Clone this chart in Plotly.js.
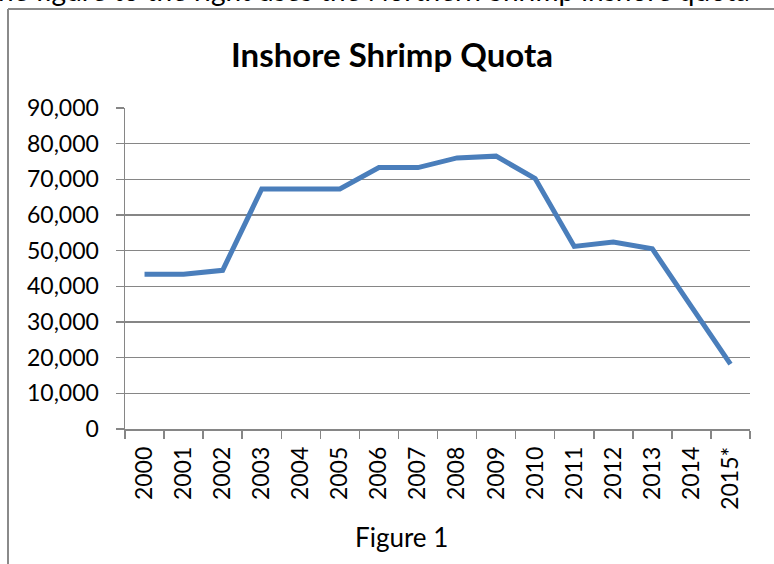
<!DOCTYPE html>
<html>
<head>
<meta charset="utf-8">
<script src="https://cdn.plot.ly/plotly-3.0.1.min.js"></script>
<style>html,body{margin:0;padding:0;background:#fff;}#chart{width:774px;height:564px;}</style>
</head>
<body>
<div id="chart"></div>
<script>
var years = ["2000","2001","2002","2003","2004","2005","2006","2007","2008","2009","2010","2011","2012","2013","2014","2015*"];
var quota = [43400, 43400, 44500, 67300, 67300, 67300, 73300, 73300, 76000, 76500, 70200, 51200, 52400, 50500, 34300, 18200];
var chartTitle = "Inshore Shrimp Quota";
var caption = "Figure 1";
var topText = "he figure to the right uses the Northern Shrimp inshore quota";

var FONT = "Lato, 'Open Sans', sans-serif";
var trace = {
  x: years, y: quota, type: "scatter", mode: "lines",
  line: {color: "#4a7ebb", width: 5},
  hoverinfo: "skip"
};
var layout = {
  width: 774, height: 564,
  margin: {l: 125, r: 24, t: 108, b: 135},
  paper_bgcolor: "#ffffff", plot_bgcolor: "#ffffff",
  showlegend: false,
  font: {family: FONT, color: "#000000", size: 23},
  title: {text: "<b>" + chartTitle + "</b>", font: {family: FONT, size: 33, color: "#000"},
          x: 0.4272, xref: "paper", xanchor: "center", y: 0.9025, yref: "container", yanchor: "middle"},
  xaxis: {
    type: "category", range: [-0.5, 15.5], tickson: "boundaries",
    showline: true, linecolor: "#868686", linewidth: 1.5,
    ticks: "outside", ticklen: 8, tickcolor: "#868686", tickwidth: 1.5,
    tickangle: -90, tickfont: {family: FONT, size: 23, color: "#000"},
    ticklabelstandoff: 7,
    showgrid: false, zeroline: false, fixedrange: true
  },
  yaxis: {
    range: [0, 90000], dtick: 10000, tick0: 0, tickformat: ",",
    showline: true, linecolor: "#868686", linewidth: 1.5,
    ticks: "outside", ticklen: 8, tickcolor: "#868686", tickwidth: 1.5,
    showgrid: true, gridcolor: "#868686", gridwidth: 1.5,
    zeroline: false, tickfont: {family: FONT, size: 23, color: "#000"},
    ticklabelstandoff: 12, fixedrange: true
  },
  annotations: [
    {text: caption, xref: "paper", yref: "paper", x: 0.4416, y: -0.3364, xanchor: "center", yanchor: "middle",
     showarrow: false, font: {family: FONT, size: 26, color: "#000"}},
    {text: topText, xref: "paper", yref: "paper", x: -0.2064, y: 1.3070, xanchor: "left", yanchor: "bottom",
     showarrow: false, font: {family: FONT, size: 28, color: "#000"}}
  ],
  shapes: [
    {type: "line", xref: "paper", yref: "paper", x0: -0.1872, x1: 1.05, y0: 1.3084, y1: 1.3084,
     line: {color: "#8a8a8a", width: 2}},
    {type: "line", xref: "paper", yref: "paper", x0: -0.1872, x1: -0.1872, y0: 1.3084, y1: -0.45,
     line: {color: "#8a8a8a", width: 2}}
  ]
};
Plotly.newPlot("chart", [trace], layout, {displayModeBar: false, staticPlot: true});
</script>
</body>
</html>
